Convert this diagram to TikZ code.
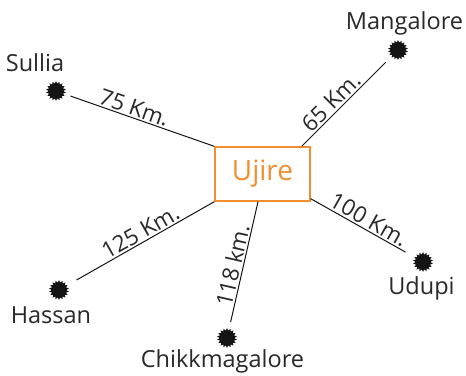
\documentclass[tikz,border=0pt]{standalone}
\usepackage{fontspec}
\setmainfont{Open Sans}
\usetikzlibrary{shapes.geometric,calc}
\definecolor{ujorange}{RGB}{243,142,48}
\definecolor{inkgray}{RGB}{40,40,40}
\begin{document}
\begin{tikzpicture}[x=1pt,y=1pt,
  city/.style={font=\fontsize{23.5}{28}\selectfont, text=inkgray, inner sep=0pt, anchor=base},
  dot/.style={star, star points=18, star point ratio=1.35, minimum size=20pt, inner sep=0pt, fill=black!92, outer sep=4.5pt},
  road/.style={line width=1pt, black!92},
  dist/.style={font=\fontsize{22.5}{27}\selectfont, sloped, above=0.5pt, inner sep=1pt, text=inkgray},
  hub/.style={draw=ujorange, line width=1.3pt, minimum width=95pt, minimum height=54pt, inner sep=0pt, text=ujorange, font=\fontsize{28}{33}\selectfont}]
\useasboundingbox (0,0) rectangle (466,375);

\node[hub] (ujire) at (262.5,201) {Ujire};

\node[dot] (sulliadot) at (56,284) {};
\node[dot] (mangdot) at (398,325) {};
\node[dot] (udupidot) at (423,113) {};
\node[dot] (hassandot) at (59,85) {};
\node[dot] (chikkdot) at (227,37) {};

\node[city] (sullia) at (35,303) {Sullia};
\node[city] (mangalore) at (404.5,345) {Mangalore};
\node[city] (udupi) at (421.5,80) {Udupi};
\node[city] (hassan) at (51,51) {Hassan};
\node[city] (chikk) at (222.5,8) {Chikkmagalore};

\coordinate (mangend) at ($(ujire.north east)+(-9,0)$);
\coordinate (udupiend) at ($(ujire.south east)+(0,3)$);
\coordinate (chikkend) at ($(ujire.south)+(-4.5,0)$);

\draw[road] (sulliadot) -- node[dist, pos=0.42] {75 Km.} (ujire.north west);
\draw[road] (mangdot) -- node[dist, pos=0.56] {65 Km.} (mangend);
\draw[road] (udupidot) -- node[dist, pos=0.44] {100 Km.} (udupiend);
\draw[road] (hassandot) -- node[dist, pos=0.50] {125 Km.} (ujire.south west);
\draw[road] (chikkdot) -- node[dist, pos=0.45] {118 km.} (chikkend);
\end{tikzpicture}
\end{document}
